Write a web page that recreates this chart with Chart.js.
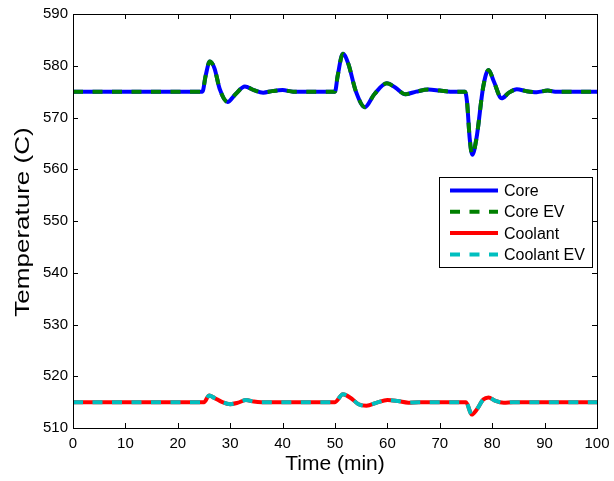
<!DOCTYPE html>
<html>
<head>
<meta charset="utf-8">
<title>Temperature</title>
<script src="https://cdn.jsdelivr.net/npm/chart.js@4"></script>
<style>
    html, body { margin: 0; padding: 0; background: #fff; }
    #wrap { width: 614px; height: 481px; }
</style>
</head>
<body>
<div id="wrap"><canvas id="chart" width="614" height="481"></canvas></div>
<script>
// Datos
const coreTime = [0, 24.7, 25.3, 26.1, 27, 28, 29.5, 31, 32.8, 34.5, 36.3, 38, 40, 42,
    50, 50.5, 51.5, 52.5, 54, 55.7, 57.5, 59.9, 61.5, 63.4, 65.5, 67.8, 70, 72,
    74.8, 75.2, 75.7, 76.2, 77, 78.3, 79.3, 80.3, 81.8, 83.2, 84.7, 86.5, 88.5, 90.6, 92, 100];
const coreTemp = [575, 575, 578, 580.8, 579.5, 575.5, 573, 574.5, 576, 575.3, 574.8, 575.1, 575.3, 575,
    575, 578, 582.3, 580.5, 575, 572, 574.5, 576.6, 575.8, 574.5, 575, 575.4, 575.2, 575,
    575, 573, 566, 562.8, 566, 576, 579.2, 577, 573.7, 574.8, 575.45, 575.1, 574.9, 575.2, 575, 575];

const coolantTime = [0, 25, 26, 27, 28.5, 30, 31.5, 33, 34.5, 36,
    50, 51.5, 53, 54.5, 56, 58, 60, 62, 64, 66,
    75, 76.1, 77, 78.3, 79.3, 80.5, 82.2, 84, 100];
const coolantTemp = [515, 515, 516.3, 515.8, 515, 514.6, 514.9, 515.4, 515.1, 515,
    515, 516.5, 515.8, 514.6, 514.3, 514.9, 515.4, 515.2, 514.9, 515,
    515, 512.6, 513.5, 515.5, 515.9, 515.3, 514.9, 515, 515];

const seriesLabels = ['Core', 'Core EV', 'Coolant', 'Coolant EV'];
const xTicks = [0, 10, 20, 30, 40, 50, 60, 70, 80, 90, 100];
const yTicks = [510, 520, 530, 540, 550, 560, 570, 580, 590];

const FONT = "'Liberation Sans', Arial, Helvetica, sans-serif";

function toPoints(xs, ys) {
    return xs.map((x, i) => ({ x: x, y: ys[i] }));
}

// Ejes estilo MATLAB: caja, marcas hacia adentro, leyenda y título Y
const matlabAxes = {
    id: 'matlabAxes',
    afterDraw(chart) {
        const ctx = chart.ctx;
        const a = chart.chartArea;
        const xs = chart.scales.x;
        const ys = chart.scales.y;
        const tl = 5;

        ctx.save();
        ctx.strokeStyle = '#000';
        ctx.lineWidth = 1;
        ctx.beginPath();
        xTicks.forEach(v => {
            const px = Math.round(xs.getPixelForValue(v)) + 0.5;
            ctx.moveTo(px, a.bottom); ctx.lineTo(px, a.bottom - tl);
            ctx.moveTo(px, a.top); ctx.lineTo(px, a.top + tl);
        });
        yTicks.forEach(v => {
            const py = Math.round(ys.getPixelForValue(v)) + 0.5;
            ctx.moveTo(a.left, py); ctx.lineTo(a.left + tl, py);
            ctx.moveTo(a.right, py); ctx.lineTo(a.right - tl, py);
        });
        ctx.stroke();
        ctx.strokeRect(Math.round(a.left) + 0.5, Math.round(a.top) + 0.5,
            Math.round(a.right - a.left), Math.round(a.bottom - a.top));

        // Leyenda
        const lx = 439, ly = 177, lw = 153, lh = 90;
        ctx.fillStyle = '#fff';
        ctx.fillRect(lx, ly, lw, lh);
        ctx.strokeRect(lx + 0.5, ly + 0.5, lw, lh);
        ctx.font = '16px ' + FONT;
        ctx.textBaseline = 'middle';
        ctx.textAlign = 'left';
        chart.data.datasets.forEach((ds, i) => {
            const ry = ly + 13.5 + i * 21.3;
            ctx.strokeStyle = ds.borderColor;
            ctx.lineWidth = 4;
            ctx.setLineDash(ds.borderDash || []);
            ctx.beginPath();
            ctx.moveTo(450, ry);
            ctx.lineTo(498, ry);
            ctx.stroke();
            ctx.setLineDash([]);
            ctx.fillStyle = '#000';
            ctx.fillText(ds.label, 504, ry + 1);
        });

        // Título del eje Y (estirado como en la figura)
        ctx.translate(23, (a.top + a.bottom) / 2 + 1);
        ctx.rotate(-Math.PI / 2);
        ctx.scale(1.3, 1);
        ctx.font = '20px ' + FONT;
        ctx.textAlign = 'center';
        ctx.fillStyle = '#000';
        ctx.fillText('Temperature (C)', 0, 0);
        ctx.restore();
    }
};

const chart = new Chart(document.getElementById('chart'), {
    type: 'line',
    data: {
        datasets: [
            { label: seriesLabels[0], data: toPoints(coreTime, coreTemp), borderColor: '#0000ff', order: 4 },
            { label: seriesLabels[1], data: toPoints(coreTime, coreTemp), borderColor: '#008000', borderDash: [10, 9.5], order: 3 },
            { label: seriesLabels[2], data: toPoints(coolantTime, coolantTemp), borderColor: '#ff0000', order: 2 },
            { label: seriesLabels[3], data: toPoints(coolantTime, coolantTemp), borderColor: '#00bfbf', borderDash: [10, 9.5], order: 1 }
        ]
    },
    options: {
        responsive: false,
        animation: false,
        layout: { padding: { top: 14, right: 17, left: 0, bottom: 0 } },
        elements: {
            line: { borderWidth: 4, cubicInterpolationMode: 'monotone', fill: false },
            point: { radius: 0 }
        },
        plugins: {
            legend: { display: false },
            tooltip: { enabled: false }
        },
        scales: {
            x: {
                type: 'linear',
                min: 0,
                max: 100,
                afterFit(scale) {
                    scale.height = 53;
                    scale.paddingLeft = 0;
                    scale.paddingRight = 0;
                },
                afterBuildTicks(scale) { scale.ticks = xTicks.map(v => ({ value: v })); },
                grid: { display: false, drawTicks: false },
                border: { display: false },
                ticks: { color: '#000', padding: 7, maxRotation: 0, font: { family: FONT, size: 15 } },
                title: { display: true, text: 'Time (min)', color: '#000', padding: { top: 0, bottom: 4 }, font: { family: FONT, size: 21 } }
            },
            y: {
                min: 510,
                max: 590,
                afterFit(scale) {
                    scale.width = 73;
                    scale.paddingTop = 0;
                    scale.paddingBottom = 0;
                },
                afterBuildTicks(scale) { scale.ticks = yTicks.map(v => ({ value: v })); },
                grid: { display: false, drawTicks: false },
                border: { display: false },
                ticks: { color: '#000', padding: 5, font: { family: FONT, size: 15 } }
            }
        }
    },
    plugins: [matlabAxes]
});
</script>
</body>
</html>
